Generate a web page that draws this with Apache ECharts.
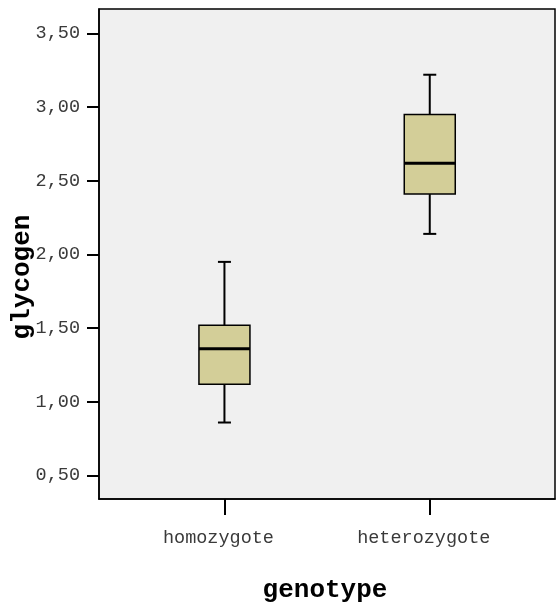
<!DOCTYPE html>
<html>
<head>
<meta charset="utf-8">
<style>
  html, body { margin: 0; padding: 0; background: #ffffff; }
  #chart { width: 557px; height: 605px; }
</style>
<script src="https://cdn.jsdelivr.net/npm/echarts@6/dist/echarts.min.js"></script>
</head>
<body>
<div id="chart"></div>
<script>
// Glycogen by genotype: five-number summaries per group
const categories = ['homozygote', 'heterozygote'];
const minVals    = [0.86, 2.14];
const q1Vals     = [1.12, 2.41];
const medianVals = [1.36, 2.62];
const q3Vals     = [1.52, 2.95];
const maxVals    = [1.95, 3.22];
const yTicks     = [0.5, 1.0, 1.5, 2.0, 2.5, 3.0, 3.5];
const xPositions = [0, 1];

const boxData = categories.map((c, i) =>
  [xPositions[i], minVals[i], q1Vals[i], medianVals[i], q3Vals[i], maxVals[i]]);

const MONO = '"Liberation Mono", "Courier New", "DejaVu Sans Mono", monospace';

const chart = echarts.init(document.getElementById('chart'), null, { renderer: 'canvas' });

function renderBox(params, api) {
  const x = api.value(0);
  const pMin = api.coord([x, api.value(1)]);
  const pQ1 = api.coord([x, api.value(2)]);
  const pMed = api.coord([x, api.value(3)]);
  const pQ3 = api.coord([x, api.value(4)]);
  const pMax = api.coord([x, api.value(5)]);
  const cx = pMed[0];
  const halfBox = 25.5;
  const halfCap = 6.5;
  const whisker = { stroke: '#000', lineWidth: 2 };
  return {
    type: 'group',
    children: [
      { type: 'line', shape: { x1: cx, y1: pQ3[1], x2: cx, y2: pMax[1] }, style: whisker },
      { type: 'line', shape: { x1: cx, y1: pQ1[1], x2: cx, y2: pMin[1] }, style: whisker },
      { type: 'line', shape: { x1: cx - halfCap, y1: pMax[1], x2: cx + halfCap, y2: pMax[1] }, style: whisker },
      { type: 'line', shape: { x1: cx - halfCap, y1: pMin[1], x2: cx + halfCap, y2: pMin[1] }, style: whisker },
      {
        type: 'rect',
        shape: { x: cx - halfBox, y: pQ3[1], width: halfBox * 2, height: pQ1[1] - pQ3[1] },
        style: { fill: '#D3CE98', stroke: '#000', lineWidth: 1.5 }
      },
      { type: 'line', shape: { x1: cx - halfBox, y1: pMed[1], x2: cx + halfBox, y2: pMed[1] },
        style: { stroke: '#000', lineWidth: 3 } }
    ]
  };
}

chart.setOption({
  animation: false,
  backgroundColor: '#ffffff',
  grid: {
    left: 99, top: 9, width: 456, height: 490,
    outerBoundsMode: 'none', containLabel: false,
    show: true, backgroundColor: '#F0F0F0', borderColor: '#000', borderWidth: 1.5
  },
  xAxis: {
    type: 'value',
    min: -0.611, max: 1.61,
    splitLine: { show: false },
    axisLine: { show: true, onZero: false, lineStyle: { color: '#000', width: 1.5 } },
    axisTick: { show: true, length: 16, customValues: xPositions, lineStyle: { color: '#000', width: 2 } },
    axisLabel: {
      customValues: xPositions,
      formatter: v => categories[Math.round(v)] || '',
      margin: 30, color: '#3a3a3a', fontFamily: MONO, fontSize: 18.5,
      padding: [0, 12, 0, 0]
    },
    name: 'genotype', nameLocation: 'middle', nameGap: 78, nameMoveOverlap: false,
    nameTextStyle: {
      fontFamily: MONO, fontWeight: 'bold', fontSize: 26, color: '#000',
      padding: [0, 4, 0, 0]
    }
  },
  yAxis: {
    type: 'value',
    min: 0.341, max: 3.666,
    splitLine: { show: false },
    axisLine: { show: true, onZero: false, lineStyle: { color: '#000', width: 1.5 } },
    axisTick: { show: true, length: 12, customValues: yTicks, lineStyle: { color: '#000', width: 2 } },
    axisLabel: {
      customValues: yTicks,
      formatter: v => v.toFixed(2).replace('.', ','),
      margin: 19, color: '#3a3a3a', fontFamily: MONO, fontSize: 18.5
    },
    name: 'glycogen', nameLocation: 'middle', nameGap: 64, nameRotate: 90, nameMoveOverlap: false,
    nameTextStyle: {
      fontFamily: MONO, fontWeight: 'bold', fontSize: 26, color: '#000',
      padding: [0, 46, 0, 0]
    }
  },
  series: [{
    type: 'custom',
    renderItem: renderBox,
    encode: { x: 0, y: [1, 2, 3, 4, 5] },
    data: boxData,
    clip: true
  }]
});
</script>
</body>
</html>
